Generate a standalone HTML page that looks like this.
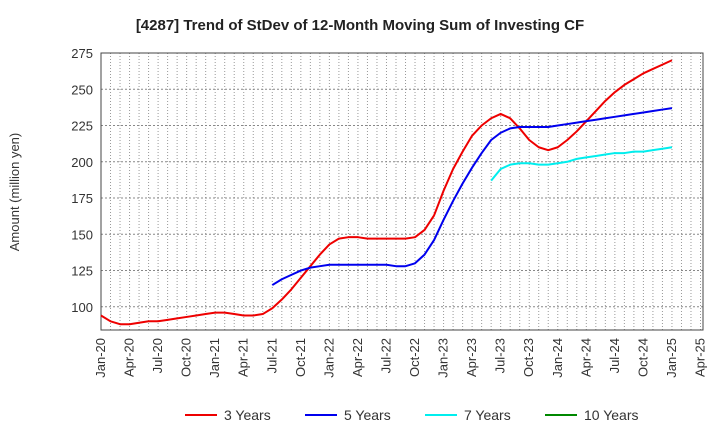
<!DOCTYPE html>
<html><head><meta charset="utf-8"><style>
body{margin:0;background:#fff;font-family:"Liberation Sans",sans-serif}
svg text{font-family:"Liberation Sans",sans-serif}
</style></head><body>
<svg id="c" width="720" height="440" xmlns="http://www.w3.org/2000/svg"></svg>
<script>
const xLabels=["Jan-20","Apr-20","Jul-20","Oct-20","Jan-21","Apr-21","Jul-21","Oct-21","Jan-22","Apr-22","Jul-22","Oct-22","Jan-23","Apr-23","Jul-23","Oct-23","Jan-24","Apr-24","Jul-24","Oct-24","Jan-25","Apr-25"];
const yTicks=[100,125,150,175,200,225,250,275];
const s3Start=0;
const s3=[94,90,88,88,89,90,90,91,92,93,94,95,96,96,95,94,94,95,99,105,112,120,128,136,143,147,148,148,147,147,147,147,147,148,153,163,180,195,207,218,225,230,233,230,223,215,210,208,210,215,221,228,235,242,248,253,257,261,264,267,270];
const s5Start=18;
const s5=[115,119,122,125,127,128,129,129,129,129,129,129,129,128,128,130,136,146,160,173,185,196,206,215,220,223,224,224,224,224,225,226,227,228,229,230,231,232,233,234,235,236,237];
const s7Start=41;
const s7=[187,195,198,199,199,198,198,199,200,202,203,204,205,206,206,207,207,208,209,210];
const s10=[];
const svg=document.getElementById('c');const NS='http://www.w3.org/2000/svg';
const L=101,R=703,T=53,B=330,vMin=84,vMax=275,months=63;
const X=m=>L+m*(700.5-L)/months;
const Y=v=>B-(v-vMin)/(vMax-vMin)*(B-T);
function el(t,a,p){const e=document.createElementNS(NS,t);for(const k in a)e.setAttribute(k,a[k]);(p||svg).appendChild(e);return e;}
const title=el('text',{x:360,y:30,'text-anchor':'middle','font-size':15,'font-weight':'bold',fill:'#222'});


title.textContent='[4287]  Trend of StDev of 12-Month Moving Sum of Investing CF';
const grid=el('g',{});


for(let m=0;m<=months;m++){el('line',{x1:X(m),x2:X(m),y1:T,y2:B,stroke:'#999','stroke-dasharray':'1,2','stroke-width':1},grid);}
yTicks.forEach(v=>{el('line',{x1:L,x2:R,y1:Y(v),y2:Y(v),stroke:'#888','stroke-dasharray':'2,2'},grid);
const t=el('text',{x:L-8,y:Y(v)+5,'text-anchor':'end','font-size':13,fill:'#333'});


t.textContent=v;});
xLabels.forEach((s,i)=>{const x=X(i*3);
const t=el('text',{transform:`translate(${x+4},${B+8}) rotate(-90)`,'text-anchor':'end','font-size':13,fill:'#333'});


t.textContent=s;});
const frame=el('rect',{x:L,y:T,width:R-L,height:B-T,fill:'none',stroke:'#444','stroke-width':1});


const yt=el('text',{transform:'translate(19,192) rotate(-90)','text-anchor':'middle','font-size':13,fill:'#333'});


yt.textContent='Amount (million yen)';
function line(data,start,color,name){if(!data.length)return;
const p=el('polyline',{points:data.map((v,i)=>X(start+i)+','+Y(v)).join(' '),fill:'none',stroke:color,'stroke-width':2,'stroke-linejoin':'round'});

}
line(s3,s3Start,'#ee0000','series-3-years');
line(s5,s5Start,'#0000ee','series-5-years');
line(s7,s7Start,'#00eeee','series-7-years');
line(s10,0,'#008800','series-10-years');
const leg=[['3 Years','#ee0000',185],['5 Years','#0000ee',305],['7 Years','#00eeee',425],['10 Years','#008800',545]];
leg.forEach(([n,c,x])=>{const g=el('g',{});


el('line',{x1:x,x2:x+32,y1:415,y2:415,stroke:c,'stroke-width':2},g);
const t=el('text',{x:x+39,y:420,'font-size':14,fill:'#333'},g);t.textContent=n;});
</script>
</body></html>
